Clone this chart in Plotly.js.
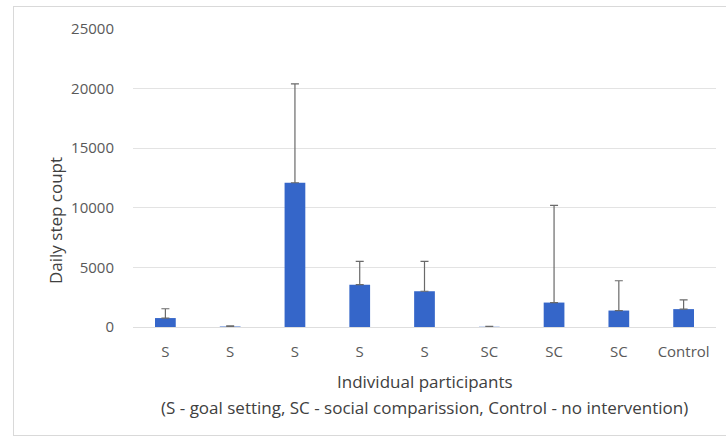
<!DOCTYPE html>
<html>
<head>
<meta charset="utf-8">
<script src="https://cdn.plot.ly/plotly-3.0.1.min.js"></script>
<style>
html,body{margin:0;padding:0;background:#fff;}
#frame{position:absolute;left:13px;top:6px;width:720px;height:430px;border:1px solid #d9d9d9;box-sizing:border-box;}
#chart{position:absolute;left:0;top:0;width:726px;height:440px;}
</style>
</head>
<body>
<div id="frame"></div>
<div id="chart"></div>
<script>
const categories = ['S', 'S', 'S', 'S', 'S', 'SC', 'SC', 'SC', 'Control'];
const meanSteps = [750, 40, 12100, 3550, 3000, 20, 2050, 1380, 1500];
const sdSteps = [780, 50, 8300, 1950, 2500, 40, 8150, 2500, 770];
const yTicks = [0, 5000, 10000, 15000, 20000, 25000];
const xTitle = 'Individual participants';
const xSubtitle = '(S - goal setting, SC - social comparission, Control - no intervention)';
const yTitle = 'Daily step coupt';

const xIdx = categories.map((_, i) => i);

const trace = {
  type: 'bar',
  x: xIdx,
  y: meanSteps,
  width: 0.32,
  marker: {color: '#3566c9'},
  error_y: {type: 'data', array: sdSteps, symmetric: false, arrayminus: sdSteps.map(() => 0), color: '#6a6a6a', thickness: 1.2, width: 4},
  hoverinfo: 'none'
};

const fam = 'Open Sans, sans-serif';
const tickFont = {family: fam, size: 15, color: '#595959'};
const titleFont = {family: fam, size: 17, color: '#404040'};

const layout = {
  width: 726, height: 440,
  margin: {l: 133, r: 10, t: 29, b: 113},
  paper_bgcolor: 'rgba(0,0,0,0)',
  plot_bgcolor: 'rgba(0,0,0,0)',
  font: tickFont,
  showlegend: false,
  xaxis: {
    tickmode: 'array', tickvals: xIdx, ticktext: categories,
    range: [-0.5, 8.5],
    showgrid: false, zeroline: false, showline: false,
    ticks: '', ticklen: 0,
    tickfont: tickFont,
    ticklabelstandoff: 14
  },
  yaxis: {
    range: [0, 25000], tickmode: 'array', tickvals: yTicks, ticktext: yTicks.map(String),
    showgrid: true, gridcolor: '#e3e3e3', gridwidth: 1,
    zeroline: true, zerolinecolor: '#dedede', zerolinewidth: 1,
    showline: false, ticks: '',
    tickfont: tickFont,
    ticklabelstandoff: 18
  },
  annotations: [
    {text: xTitle, xref: 'paper', yref: 'paper', x: 0.5, y: 0, yshift: -54, xanchor: 'center', yanchor: 'middle', showarrow: false, font: titleFont},
    {text: xSubtitle, xref: 'paper', yref: 'paper', x: 0.5, y: 0, yshift: -80, xanchor: 'center', yanchor: 'middle', showarrow: false, font: titleFont},
    {text: yTitle, xref: 'paper', yref: 'paper', x: 0, y: 0.5, xshift: -78, yshift: -43, textangle: -90, xanchor: 'center', yanchor: 'middle', showarrow: false, font: titleFont}
  ]
};

Plotly.newPlot('chart', [trace], layout, {staticPlot: true, displayModeBar: false});
</script>
</body>
</html>
